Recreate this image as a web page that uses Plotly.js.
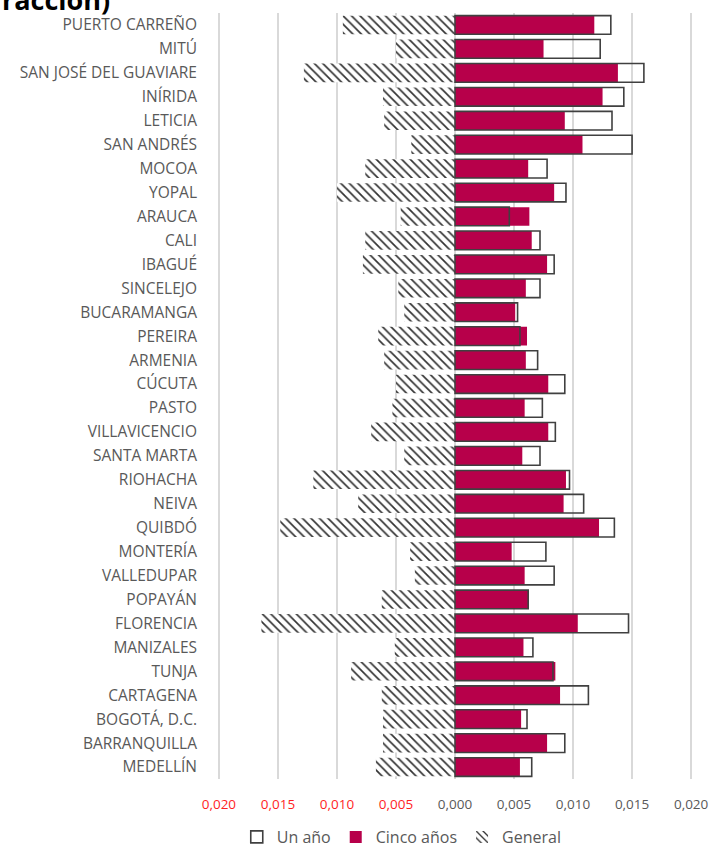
<!DOCTYPE html>
<html>
<head>
<meta charset="utf-8">
<script src="https://cdn.plot.ly/plotly-3.0.1.min.js"></script>
<style>html,body{margin:0;padding:0;background:#fff;}#chart{width:717px;height:854px;}</style>
</head>
<body>
<div id="chart"></div>
<script>
const cities = ["PUERTO CARREÑO","MITÚ","SAN JOSÉ DEL GUAVIARE","INÍRIDA","LETICIA","SAN ANDRÉS","MOCOA","YOPAL","ARAUCA","CALI","IBAGUÉ","SINCELEJO","BUCARAMANGA","PEREIRA","ARMENIA","CÚCUTA","PASTO","VILLAVICENCIO","SANTA MARTA","RIOHACHA","NEIVA","QUIBDÓ","MONTERÍA","VALLEDUPAR","POPAYÁN","FLORENCIA","MANIZALES","TUNJA","CARTAGENA","BOGOTÁ, D.C.","BARRANQUILLA","MEDELLÍN"];
const unAno = [0.0132,0.0123,0.0160,0.0143,0.0133,0.0150,0.0078,0.0094,0.0046,0.0072,0.0084,0.0072,0.0053,0.0055,0.0070,0.0093,0.0074,0.0085,0.0072,0.0097,0.0109,0.0135,0.0077,0.0084,0.0062,0.0147,0.0066,0.0083,0.0113,0.0061,0.0093,0.0065];
const cincoAnos = [0.0118,0.0075,0.0138,0.0125,0.0093,0.0108,0.0062,0.0084,0.0063,0.0065,0.0078,0.0060,0.0051,0.0061,0.0060,0.0079,0.0059,0.0079,0.0057,0.0094,0.0092,0.0122,0.0048,0.0059,0.0062,0.0104,0.0058,0.0085,0.0089,0.0056,0.0078,0.0055];
const general = [-0.0095,-0.0050,-0.0128,-0.0061,-0.0060,-0.0037,-0.0076,-0.0100,-0.0046,-0.0076,-0.0078,-0.0048,-0.0043,-0.0065,-0.0060,-0.0050,-0.0053,-0.0071,-0.0043,-0.0120,-0.0082,-0.0148,-0.0038,-0.0034,-0.0062,-0.0164,-0.0051,-0.0088,-0.0062,-0.0061,-0.0061,-0.0067];
const tickVals = [-0.020,-0.015,-0.010,-0.005,0,0.005,0.010,0.015,0.020];
const tickLabels = ["0,020","0,015","0,010","0,005","0,000","0,005","0,010","0,015","0,020"];

const tickText = tickVals.map((v,i)=> v<0 ? '<span style="color:#FF1F1F">'+tickLabels[i]+'</span>' : tickLabels[i]);

const traces = [
  {type:'bar', orientation:'h', name:'Cinco años', y:cities, x:cincoAnos, width:0.78,
   marker:{color:'#B7004A', line:{width:0}}, legendrank:2},
  {type:'bar', orientation:'h', name:'General', y:cities, x:general, width:0.78,
   marker:{color:'#ffffff', line:{width:0}, pattern:{shape:'\\', fgcolor:'#333333', bgcolor:'#ffffff', size:6, solidity:0.28}}, legendrank:3},
  {type:'bar', orientation:'h', name:'Un año', y:cities, x:unAno, width:0.78,
   marker:{color:'rgba(255,255,255,0)', line:{width:1.6, color:'#404040'}}, legendrank:1}
];

const layout = {
  width:717, height:854,
  margin:{l:213, r:20, t:13, b:75, autoexpand:false},
  paper_bgcolor:'#ffffff', plot_bgcolor:'#ffffff',
  barmode:'overlay',
  font:{family:'"Open Sans", "Noto Sans", sans-serif', size:13, color:'#595959'},
  showlegend:true,
  legend:{orientation:'h', x:0.39, xanchor:'center', yref:'container', y:0, yanchor:'bottom',
          font:{size:16, color:'#595959'}, itemwidth:30, traceorder:'normal', tracegroupgap:0},
  xaxis:{range:[-0.0205,0.0205], tickvals:tickVals, ticktext:tickText, showgrid:true,
         gridcolor:'#D9D9D9', gridwidth:1.3, zeroline:false, showline:false, ticks:'',
         ticklabelstandoff:15, tickfont:{size:13.5, color:'#595959'}, fixedrange:true},
  yaxis:{type:'category', autorange:'reversed', showgrid:false, zeroline:false, showline:false,
         ticks:'', ticklabelstandoff:15, tickfont:{size:15.5, color:'#595959'}},
  annotations:[{text:'<b>racción)</b>', xref:'paper', yref:'paper', x:-213/484, y:1+(13-20)/766,
                xanchor:'left', yanchor:'bottom', showarrow:false,
                font:{size:27, color:'#000000', family:'"Open Sans", sans-serif'}}]
};

Plotly.newPlot('chart', traces, layout, {displayModeBar:false, staticPlot:true});
</script>
</body>
</html>
